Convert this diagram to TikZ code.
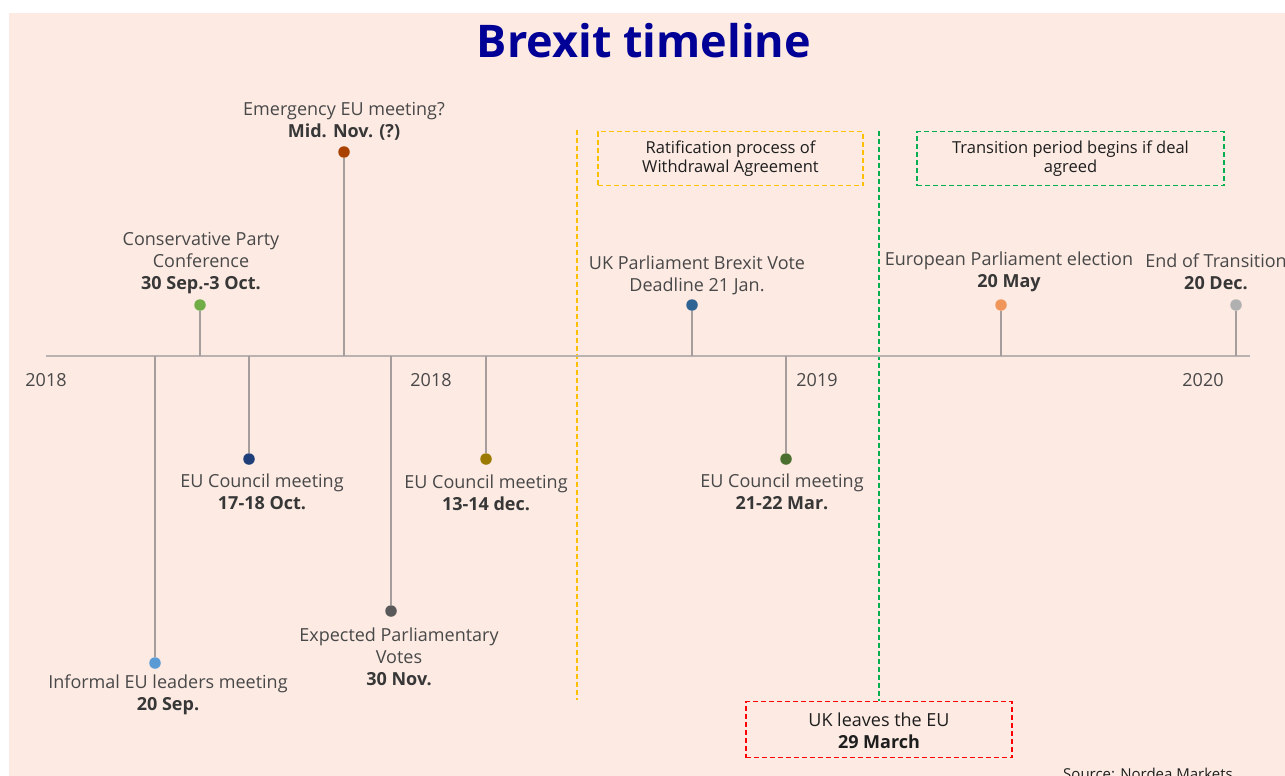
\documentclass[tikz,border=0pt]{standalone}
\usepackage{fontspec}
\setmainfont{Open Sans}
\definecolor{bg}{RGB}{252,234,227}
\definecolor{titleblue}{RGB}{0,0,150}
\definecolor{axisgrey}{RGB}{185,178,176}
\definecolor{stemgrey}{RGB}{165,158,156}
\definecolor{labelgrey}{RGB}{72,72,72}
\definecolor{dategrey}{RGB}{55,55,55}
\definecolor{boxtext}{RGB}{30,30,30}
\definecolor{cSep}{RGB}{91,155,213}
\definecolor{cConf}{RGB}{112,173,71}
\definecolor{cOct}{RGB}{31,63,122}
\definecolor{cNovE}{RGB}{169,65,0}
\definecolor{cNovV}{RGB}{89,89,89}
\definecolor{cDec}{RGB}{156,122,0}
\definecolor{cJan}{RGB}{46,100,148}
\definecolor{cMar}{RGB}{75,111,46}
\definecolor{cMay}{RGB}{240,150,90}
\definecolor{cEnd}{RGB}{176,176,176}
\definecolor{ratyellow}{RGB}{255,192,0}
\definecolor{transgreen}{RGB}{0,176,80}
\definecolor{leavered}{RGB}{255,0,0}
\begin{document}
\begin{tikzpicture}[x=1pt,y=-1pt,
  evdot/.style={circle, fill=#1, draw=none, inner sep=0pt, minimum size=11.5pt},
  stem/.style={draw=stemgrey, line width=1.2pt},
  axisline/.style={draw=axisgrey, line width=1.5pt},
  evlabel/.style={align=center, text=labelgrey, inner sep=0pt, yshift=-2pt,
    font=\fontsize{18}{22}\selectfont},
  yearlabel/.style={text=labelgrey, inner sep=0pt, font=\fontsize{18}{22}\selectfont},
  periodline/.style={line width=1.3pt, dash pattern=on 5pt off 3pt},
  periodbox/.style={draw=#1, line width=1.3pt, dash pattern=on 5pt off 3pt},
  boxlabel/.style={align=center, text=boxtext, inner sep=0pt, yshift=-2pt,
    font=\fontsize{16.5}{19}\selectfont},
]
\useasboundingbox (0,0) rectangle (1285,776);
\fill[white] (0,0) rectangle (1285,776);
\fill[bg] (9,13) rectangle (1285,776);

% title
\node[text=titleblue, inner sep=0pt, font=\fontsize{45}{50}\selectfont\bfseries]
  (title) at (644,41) {Brexit timeline};

% period boxes and separators
\node[periodbox=ratyellow, minimum width=265pt, minimum height=54pt, inner sep=0pt]
  (ratbox) at (730.5,158.5) {};
\node[boxlabel] (rattext) at (730.5,157) {Ratification process of\\Withdrawal Agreement};
\node[periodbox=transgreen, minimum width=307pt, minimum height=54pt, inner sep=0pt]
  (transbox) at (1070.5,158.5) {};
\node[boxlabel] (transtext) at (1070.5,157) {Transition period begins if deal\\agreed};
\node[periodbox=leavered, minimum width=266pt, minimum height=56pt, inner sep=0pt]
  (leavebox) at (879,729.5) {};
\node[boxlabel, font=\fontsize{18}{22}\selectfont] (leavetext) at (879,729)
  {UK leaves the EU\\\textbf{29 March}};

\coordinate (ratTop) at (577,130);
\coordinate (ratBot) at (577,700);
\draw[periodline, draw=ratyellow] (ratTop) -- (ratBot);
\coordinate (transTop) at (879,131);
\draw[periodline, draw=transgreen] (transTop) -- (leavebox.north);

% time axis
\coordinate (axL) at (46,356);
\coordinate (axR) at (1250,356);
\draw[axisline] (axL) -- (axR);

\node[yearlabel] (y18a) at (46,380) {2018};
\node[yearlabel] (y18b) at (431,380) {2018};
\node[yearlabel] (y19) at (817,380) {2019};
\node[yearlabel] (y20) at (1203,380) {2020};

% events: axis point, marker, stem, label
\coordinate (aSep) at (155,356);
\node[evdot=cSep] (dSep) at (155,663) {};
\draw[stem] (aSep) -- (dSep);
\node[evlabel] (lSep) at (168,693) {Informal EU leaders meeting\\\textcolor{dategrey}{\textbf{20 Sep.}}};

\coordinate (aConf) at (200,356);
\node[evdot=cConf] (dConf) at (200,305) {};
\draw[stem] (aConf) -- (dConf);
\node[evlabel] (lConf) at (201,261) {Conservative Party\\Conference\\\textcolor{dategrey}{\textbf{30 Sep.-3 Oct.}}};

\coordinate (aOct) at (249,356);
\node[evdot=cOct] (dOct) at (249,459) {};
\draw[stem] (aOct) -- (dOct);
\node[evlabel] (lOct) at (262,490) {EU Council meeting\\\textcolor{dategrey}{\textbf{17-18 Oct.}}};

\coordinate (aNovE) at (344,356);
\node[evdot=cNovE] (dNovE) at (344,152) {};
\draw[stem] (aNovE) -- (dNovE);
\node[evlabel] (lNovE) at (344,119) {Emergency EU meeting?\\\textcolor{dategrey}{\textbf{Mid. Nov. (?)}}};

\coordinate (aNovV) at (391,356);
\node[evdot=cNovV] (dNovV) at (391,611) {};
\draw[stem] (aNovV) -- (dNovV);
\node[evlabel] (lNovV) at (399,655) {Expected Parliamentary\\Votes\\\textcolor{dategrey}{\textbf{30 Nov.}}};

\coordinate (aDec) at (486,356);
\node[evdot=cDec] (dDec) at (486,459) {};
\draw[stem] (aDec) -- (dDec);
\node[evlabel] (lDec) at (486,491) {EU Council meeting\\\textcolor{dategrey}{\textbf{13-14 dec.}}};

\coordinate (aJan) at (692,356);
\node[evdot=cJan] (dJan) at (692,305) {};
\draw[stem] (aJan) -- (dJan);
\node[evlabel] (lJan) at (697,273) {UK Parliament Brexit Vote\\Deadline 21 Jan.};

\coordinate (aMar) at (786,356);
\node[evdot=cMar] (dMar) at (786,459) {};
\draw[stem] (aMar) -- (dMar);
\node[evlabel] (lMar) at (782,490) {EU Council meeting\\\textcolor{dategrey}{\textbf{21-22 Mar.}}};

\coordinate (aMay) at (1001,356);
\node[evdot=cMay] (dMay) at (1001,305) {};
\draw[stem] (aMay) -- (dMay);
\node[evlabel] (lMay) at (1009,270) {European Parliament election\\\textcolor{dategrey}{\textbf{20 May}}};

\coordinate (aEnd) at (1236,356);
\node[evdot=cEnd] (dEnd) at (1236,305) {};
\draw[stem] (aEnd) -- (dEnd);
\node[evlabel] (lEnd) at (1216,270) {End of Transition\\\textcolor{dategrey}{\textbf{20 Dec.}}};

% source note
\node[anchor=base, text=boxtext, inner sep=0pt, font=\fontsize{15}{18}\selectfont]
  (source) at (1148,779) {Source: Nordea Markets};
\end{tikzpicture}
\end{document}
